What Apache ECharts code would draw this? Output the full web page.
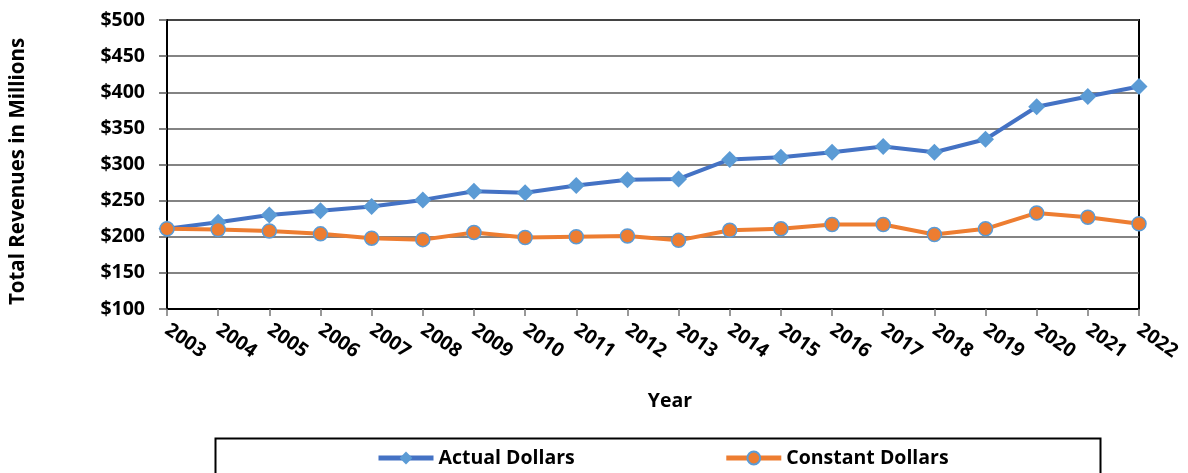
<!DOCTYPE html>
<html>
<head>
<meta charset="utf-8">
<script src="https://cdn.jsdelivr.net/npm/echarts@6/dist/echarts.min.js"></script>
<style>
  html, body { margin: 0; padding: 0; background: #fff; }
  #chart { width: 1188px; height: 473px; }
</style>
</head>
<body>
<div id="chart"></div>
<script>
var years = ["2003", "2004", "2005", "2006", "2007", "2008", "2009", "2010", "2011", "2012",
  "2013", "2014", "2015", "2016", "2017", "2018", "2019", "2020", "2021", "2022"];
var actualDollars = [211, 220, 230, 236, 242, 251, 263, 261, 271, 279,
  280, 307, 310, 317, 325, 317, 335, 380, 394, 408];
var constantDollars = [211, 210, 208, 204, 198, 196, 206, 199, 200, 201,
  195, 209, 211, 217, 217, 203, 211, 233, 227, 218];

var font = "Open Sans";
var myChart = echarts.init(document.getElementById("chart"));

var option = {
  animation: false,
  backgroundColor: "#fff",
  textStyle: { fontFamily: font },
  grid: {
    left: 166,
    right: 49,
    top: 20,
    bottom: 164,
    show: true,
    borderColor: "#000",
    borderWidth: 2,
  },
  legend: {
    left: 376,
    top: 448,
    padding: 0,
    itemWidth: 55,
    itemHeight: 16,
    itemGap: 149,
    lineStyle: { width: 5 },
    textStyle: { fontFamily: font, fontWeight: "bold", fontSize: 19.5, color: "#000" },
    data: ["Actual Dollars", "Constant Dollars"],
  },
  graphic: [
    {
      type: "rect",
      left: 213,
      top: 436,
      shape: { width: 885, height: 60 },
      style: { fill: "none", stroke: "#000", lineWidth: 2 },
      silent: true,
    },
  ],
  xAxis: {
    type: "category",
    boundaryGap: false,
    data: years,
    name: "Year",
    nameLocation: "middle",
    nameGap: 82,
    nameTextStyle: { fontFamily: font, fontWeight: "bold", fontSize: 19.5, color: "#000", padding: [0, 0, 0, 34] },
    axisLine: { lineStyle: { color: "#000", width: 2 } },
    axisTick: { alignWithLabel: true, length: 7, lineStyle: { color: "#777", width: 1.5 } },
    axisLabel: {
      rotate: -35,
      margin: 19,
      fontFamily: font,
      fontWeight: "bold",
      fontSize: 19.5,
      color: "#000",
    },
    splitLine: { show: false },
  },
  yAxis: {
    type: "value",
    min: 100,
    max: 500,
    interval: 50,
    name: "Total Revenues in Millions",
    nameLocation: "middle",
    nameRotate: 90,
    nameGap: 138,
    nameTextStyle: { fontFamily: font, fontWeight: "bold", fontSize: 20.5, color: "#000", padding: [0, 14, 0, 0] },
    axisLine: { show: true, lineStyle: { color: "#000", width: 2 } },
    axisTick: { show: true, length: 8, lineStyle: { color: "#555", width: 1.5 } },
    axisLabel: {
      formatter: "${value}",
      margin: 22,
      fontFamily: font,
      fontWeight: "bold",
      fontSize: 19.5,
      color: "#000",
    },
    splitLine: { lineStyle: { color: "#5a5a5a", width: 1.5 } },
  },
  series: [
    {
      name: "Actual Dollars",
      type: "line",
      data: actualDollars,
      symbol: "diamond",
      symbolSize: 17,
      lineStyle: { color: "#4472C4", width: 4 },
      itemStyle: { color: "#5B9BD5", borderWidth: 0 },
      z: 3,
    },
    {
      name: "Constant Dollars",
      type: "line",
      data: constantDollars,
      symbol: "circle",
      symbolSize: 14,
      lineStyle: { color: "#ED7D31", width: 4 },
      itemStyle: { color: "#ED7D31", borderColor: "#5B9BD5", borderWidth: 1.5 },
      z: 4,
    },
  ],
};
myChart.setOption(option);
</script>
</body>
</html>
